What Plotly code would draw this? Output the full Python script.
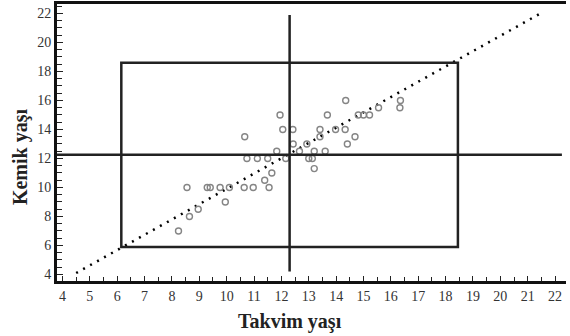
import plotly.graph_objects as go

# Chronological age (Takvim yaşı) and bone age (Kemik yaşı)
takvim = [8.24, 8.64, 8.96, 9.95,
          8.55, 9.29, 9.40, 9.76, 10.10, 10.64, 10.97, 11.55,
          11.39, 11.65, 13.20,
          10.74, 11.12, 11.50, 12.16, 13.00, 13.13,
          11.83, 12.66, 13.20, 13.60,
          12.43, 12.93, 14.41,
          10.66, 13.41, 14.69,
          12.05, 12.42, 13.41, 13.98, 14.33,
          11.95, 13.68, 14.81, 15.00, 15.22,
          15.55, 16.33,
          14.35, 16.35]
kemik = [7.0, 8.0, 8.5, 9.0,
         10.0, 10.0, 10.0, 10.0, 10.0, 10.0, 10.0, 10.0,
         10.5, 11.0, 11.3,
         12.0, 12.0, 12.0, 12.0, 12.0, 12.0,
         12.5, 12.5, 12.5, 12.5,
         13.0, 13.0, 13.0,
         13.5, 13.5, 13.5,
         14.0, 14.0, 14.0, 14.0, 14.0,
         15.0, 15.0, 15.0, 15.0, 15.0,
         15.5, 15.5,
         16.0, 16.0]

mean_x = 12.3
mean_y = 12.25
box_x = [6.15, 18.45]
box_y = [5.9, 18.6]
diag_x = [4.5, 21.56]
diag_y = [4.1, 22.1]
vline_y = [4.2, 21.9]
hline_x = [3.8, 22.25]

x_ticks = list(range(4, 23))
y_ticks = list(range(4, 23, 2))

fig = go.Figure()

fig.add_trace(go.Scatter(x=diag_x, y=diag_y, mode="lines",
                         line=dict(color="black", width=2.5, dash="2px,6px"),
                         hoverinfo="skip"))
fig.add_trace(go.Scatter(x=takvim, y=kemik, mode="markers",
                         marker=dict(symbol="circle-open", size=6,
                                     color="#858585", line=dict(width=1.4))))

# Box (mean ± 2SD) and mean lines
fig.add_shape(type="rect", x0=box_x[0], x1=box_x[1], y0=box_y[0], y1=box_y[1],
              line=dict(color="#222222", width=2.5))
fig.add_shape(type="line", x0=mean_x, x1=mean_x, y0=vline_y[0], y1=vline_y[1],
              line=dict(color="#222222", width=2.5))
fig.add_shape(type="line", x0=hline_x[0], x1=hline_x[1], y0=mean_y, y1=mean_y,
              line=dict(color="#222222", width=2.5))

serif = "Liberation Serif, Times New Roman, serif"

fig.add_annotation(text="<b>Takvim yaşı</b>", xref="paper", yref="paper",
                   x=0.457, y=-0.148, xanchor="center", yanchor="middle",
                   showarrow=False, font=dict(family=serif, size=20, color="#222222"))
fig.add_annotation(text="<b>Kemik yaşı</b>", xref="paper", yref="paper",
                   x=-0.0727, y=0.451, xanchor="center", yanchor="middle", textangle=-90,
                   showarrow=False, font=dict(family=serif, size=20, color="#222222"))

fig.update_layout(
    width=570, height=336,
    margin=dict(l=57, r=4, t=4, b=55),
    paper_bgcolor="white", plot_bgcolor="white",
    showlegend=False,
    font=dict(family=serif, size=13, color="#222222"),
    xaxis=dict(range=[3.8, 22.4], tickvals=x_ticks, ticktext=[str(v) for v in x_ticks],
               automargin=False,
               showgrid=False, zeroline=False,
               showline=True, linecolor="#111111", linewidth=3, mirror=True,
               ticks="inside", ticklen=5, tickwidth=1.2, tickcolor="#222222",
               minor=dict(dtick=0.5, tick0=4, ticks="inside", ticklen=4, tickcolor="#222222"),
               tickfont=dict(family=serif, size=14, color="#333333")),
    yaxis=dict(range=[3.55, 22.65], tickvals=y_ticks, ticktext=[str(v) for v in y_ticks],
               automargin=False,
               showgrid=False, zeroline=False,
               showline=True, linecolor="#111111", linewidth=3,
               ticks="inside", ticklen=6, tickwidth=1.2, tickcolor="#222222",
               minor=dict(dtick=0.5, tick0=4, ticks="inside", ticklen=5, tickcolor="#222222"),
               tickfont=dict(family=serif, size=14, color="#333333")),
)

fig.write_html("out.html",
               config={"displayModeBar": False},
               post_script="document.body.style.margin='0';document.body.style.overflow='hidden';")
